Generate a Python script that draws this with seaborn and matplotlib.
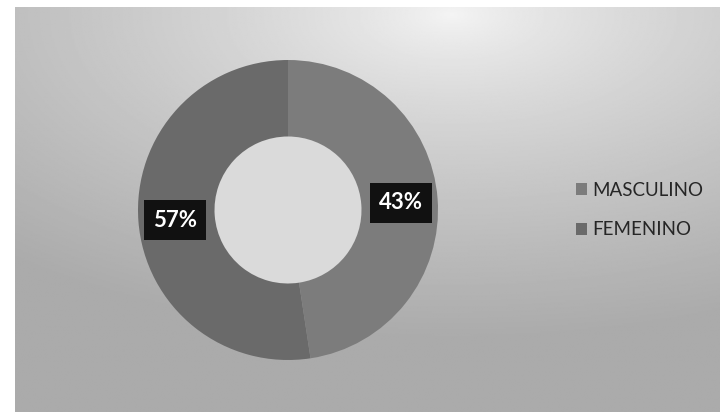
import numpy as np
import matplotlib
matplotlib.use("Agg")
import matplotlib.pyplot as plt
import seaborn as sns

sns.set_theme(style="white")
plt.rcParams['font.family'] = ['Lato', 'DejaVu Sans']

# data (slice sizes as drawn, labels as printed)
categorias = ["MASCULINO", "FEMENINO"]
tamanos = [47.6, 52.4]
etiquetas = ["43%", "57%"]
colores = ["#7c7c7c", "#6a6a6a"]

fig = plt.figure(figsize=(7.2, 4.15), dpi=100)
fig.patch.set_facecolor("white")

# scanned-looking gradient background inside the chart frame
bg = fig.add_axes([15/720, 3/415, 705/720, 405/415])
yy, xx = np.mgrid[0:1:300j, 0:1:500j]
d = np.sqrt(((xx - 0.62) / 0.95) ** 2 + ((yy - 0.02) / 0.8) ** 2)
img = 0.96 - 0.29 * np.clip(d, 0, 1) ** 0.75
bg.imshow(img, cmap="gray", vmin=0, vmax=1, aspect="auto", extent=[0, 1, 1, 0])
bg.set_axis_off()

# donut
ax = fig.add_axes([138/720, 1 - 360/415, 300/720, 300/415])
ax.set_facecolor("none")
wedges, _ = ax.pie(tamanos, colors=colores, startangle=90, counterclock=False,
                   radius=1.0, wedgeprops=dict(width=0.51, edgecolor="none"))
# hole looks a bit darker than the paper around it
ax.add_patch(plt.Circle((0, 0), 0.49, color="#dadada", zorder=0))
ax.set_xlim(-1, 1)
ax.set_ylim(-1, 1)
ax.set_aspect("equal")
ax.set_axis_off()

for w, txt in zip(wedges, etiquetas):
    ang = np.deg2rad((w.theta1 + w.theta2) / 2)
    r = 0.755
    ax.text(r * np.cos(ang), r * np.sin(ang) - 0.01, txt, ha="center", va="center",
            color="white", fontsize=16, fontweight="bold",
            bbox=dict(boxstyle="square,pad=0.42", fc="#111111", ec="none"))

leg = fig.legend(wedges, categorias, loc="center left",
                 bbox_to_anchor=(559/720, 1 - 210/415), frameon=False,
                 fontsize=13.5, handlelength=0.6, handleheight=0.6,
                 handletextpad=0.3, labelspacing=1.2, labelcolor="#262626")

fig.savefig("out.png", dpi=100, facecolor="white")
